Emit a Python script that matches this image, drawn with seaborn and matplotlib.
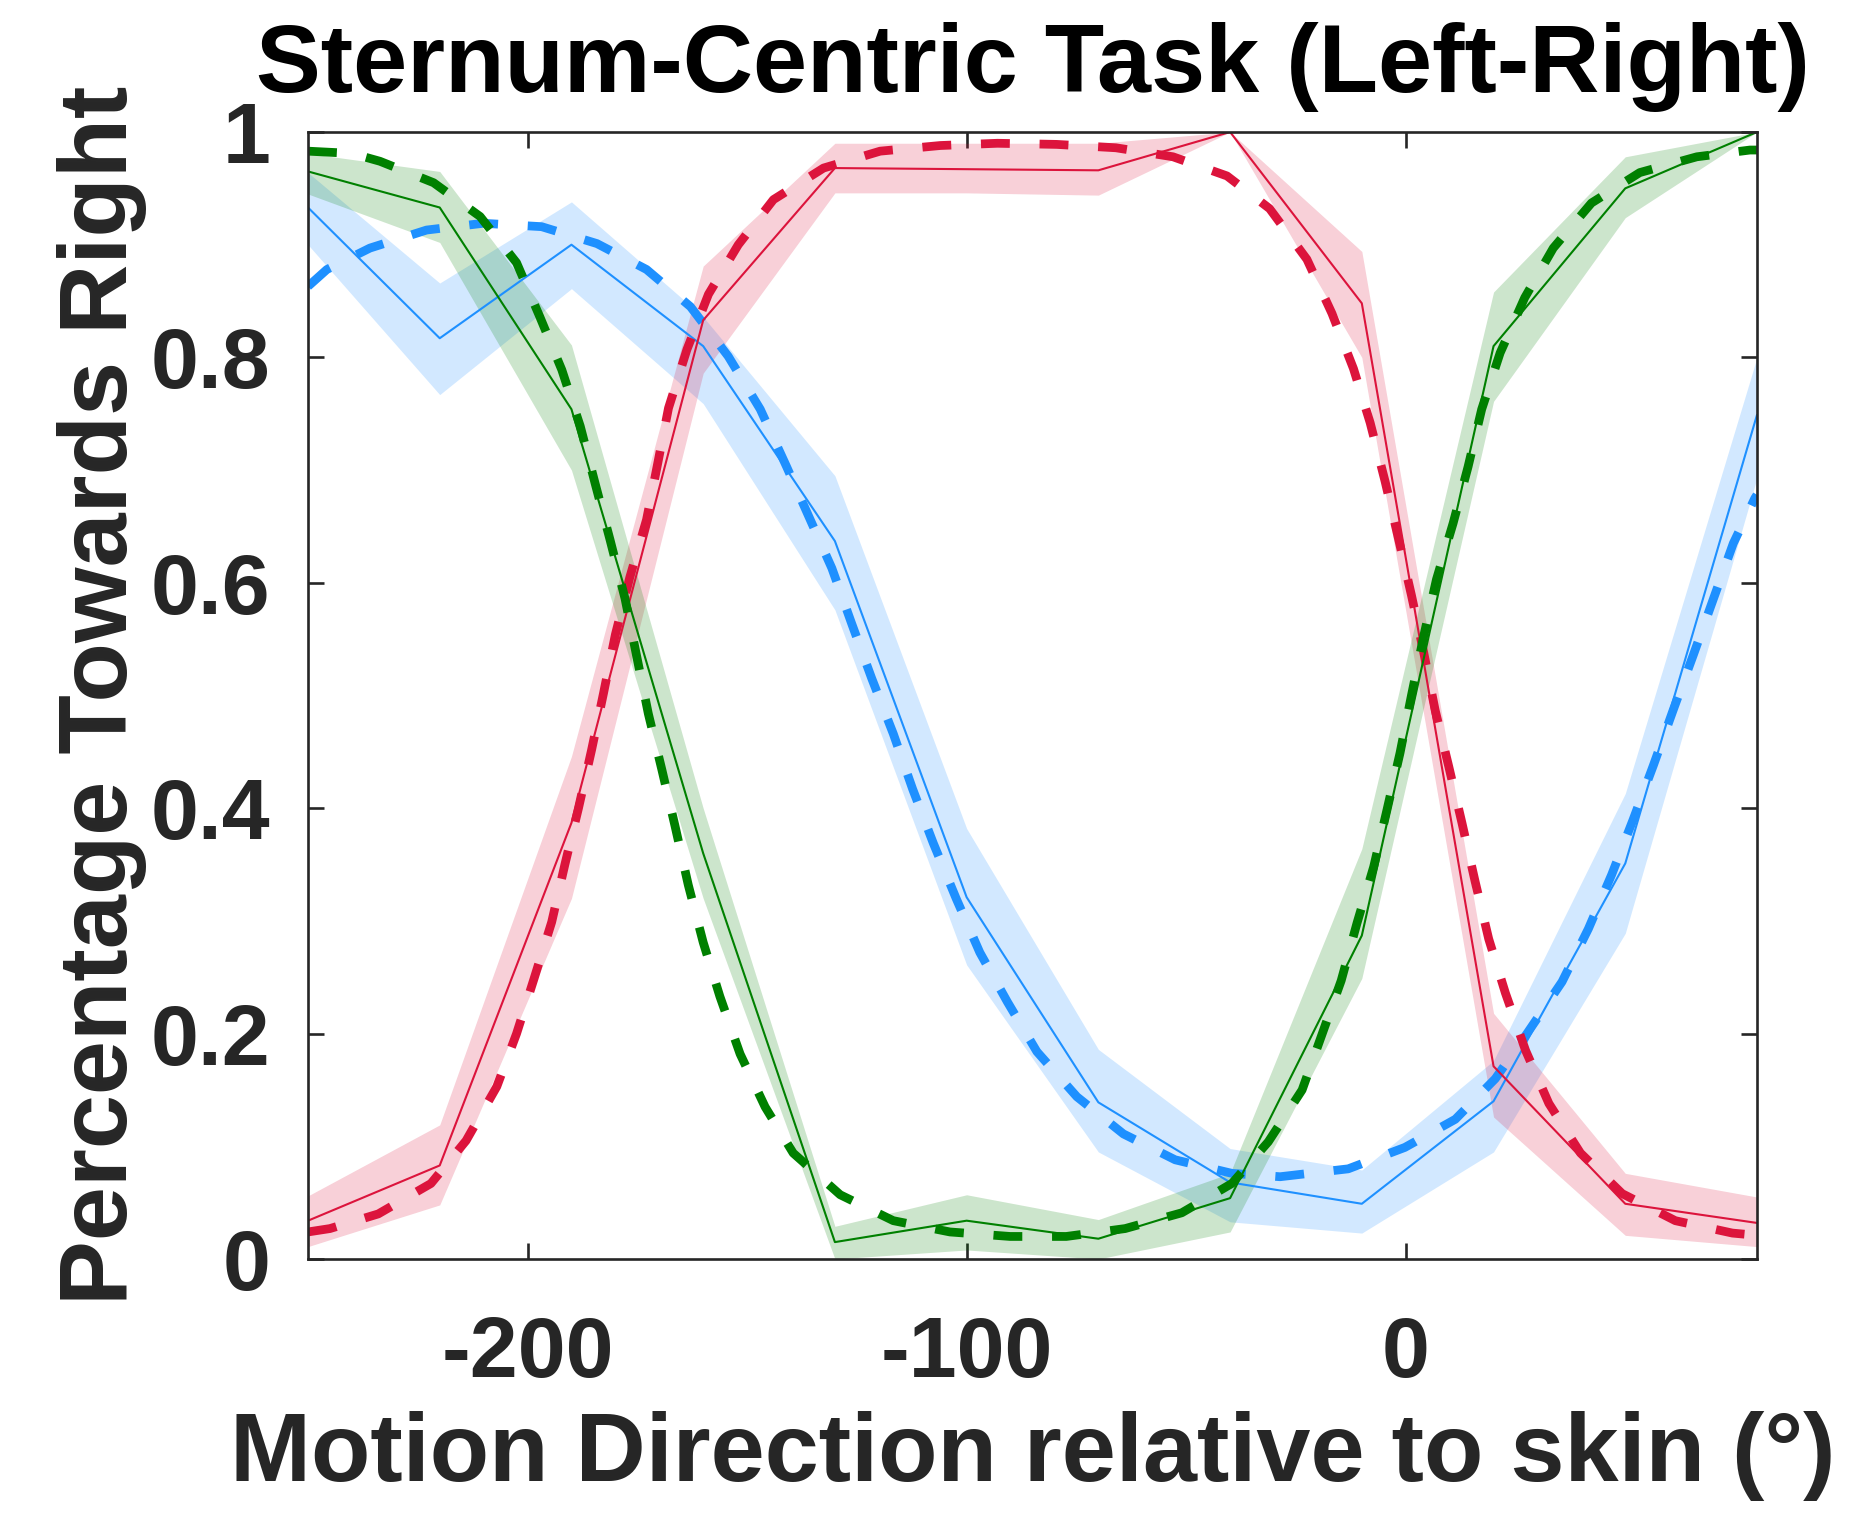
import matplotlib
matplotlib.use("Agg")
import matplotlib.pyplot as plt
import seaborn as sns

# Measured response: mean proportion "towards right" per motion direction,
# with the lower / upper limits of the shaded band.
direction = [-250, -220, -190, -160, -130, -100, -70, -40, -10, 20, 50, 80]

blue_mean = [0.933, 0.817, 0.900, 0.810, 0.637, 0.321, 0.139, 0.068, 0.049, 0.140, 0.351, 0.749]
blue_lo = [0.900, 0.767, 0.861, 0.759, 0.576, 0.261, 0.095, 0.033, 0.023, 0.095, 0.289, 0.693]
blue_hi = [0.964, 0.866, 0.938, 0.836, 0.695, 0.382, 0.186, 0.098, 0.079, 0.176, 0.413, 0.800]

red_mean = [0.034, 0.083, 0.387, 0.833, 0.968, 0.967, 0.966, 1.000, 0.848, 0.171, 0.049, 0.032]
red_lo = [0.011, 0.048, 0.320, 0.786, 0.946, 0.946, 0.944, 1.000, 0.800, 0.126, 0.021, 0.011]
red_hi = [0.056, 0.119, 0.446, 0.881, 0.990, 0.990, 0.990, 1.000, 0.894, 0.218, 0.076, 0.055]

green_mean = [0.965, 0.933, 0.754, 0.360, 0.015, 0.034, 0.018, 0.054, 0.287, 0.810, 0.950, 1.000]
green_lo = [0.945, 0.902, 0.700, 0.320, 0.000, 0.008, 0.000, 0.024, 0.249, 0.761, 0.924, 1.000]
green_hi = [0.981, 0.965, 0.811, 0.400, 0.029, 0.057, 0.035, 0.076, 0.364, 0.858, 0.978, 1.000]

# Model fits (dashed curves)
blue_fit_x = [-250, -245.7, -235.9, -223, -210.1, -196.8, -184.2, -172.9, -162.9, -154.3,
              -147, -141, -130.7, -126.2, -121.6, -116.7, -112.3, -107.6, -102.4, -97,
              -90.7, -84, -74.9, -64.3, -52.5, -39.6, -28.6, -13.1, -0.2, 11.3, 20.4,
              27.6, 35.6, 41.6, 46.9, 51.8, 56.4, 60.9, 65.5, 70.0, 74.6, 79.5, 80]
blue_fit_y = [0.863, 0.878, 0.897, 0.913, 0.919, 0.916, 0.901, 0.878, 0.845, 0.801,
              0.754, 0.703, 0.613, 0.564, 0.515, 0.466, 0.417, 0.369, 0.320, 0.272,
              0.228, 0.184, 0.144, 0.111, 0.088, 0.076, 0.073, 0.080, 0.099, 0.124, 0.160,
              0.200, 0.246, 0.293, 0.341, 0.390, 0.438, 0.487, 0.536, 0.585, 0.635, 0.675, 0.678]

red_fit_x = [-250, -245, -234, -222, -214, -207, -202.5, -198.5, -194.5, -191.5, -188.4,
             -185.4, -182.7, -180, -176.7, -172.9, -170.4, -167.9, -163.7, -158.8, -152,
             -144, -132.6, -119.7, -106, -93, -79.5, -66, -53, -40.7, -31, -22.5, -16.8,
             -11.9, -8.1, -4.7, -1.7, 1.3, 4.0, 6.7, 9.8, 12.8, 15.8, 18.9, 22.7, 27.3,
             32.6, 39.8, 49.3, 61.4, 74.4, 80]
red_fit_y = [0.024, 0.027, 0.040, 0.067, 0.105, 0.153, 0.200, 0.249, 0.299, 0.350, 0.400,
             0.452, 0.502, 0.554, 0.605, 0.656, 0.705, 0.755, 0.807, 0.856, 0.900,
             0.940, 0.968, 0.983, 0.988, 0.990, 0.989, 0.986, 0.978, 0.961, 0.932, 0.887, 0.839,
             0.790, 0.742, 0.690, 0.640, 0.589, 0.540, 0.487, 0.437, 0.387, 0.335, 0.284, 0.236, 0.185,
             0.138, 0.094, 0.058, 0.034, 0.023, 0.021]

green_fit_x = [-250, -240, -233.6, -221.4, -210.8, -202.5, -197.2, -192.2, -188, -184.6,
               -181.2, -177.8, -175.1, -172.5, -169.4, -166.4, -163.4, -160, -156.2, -151.6,
               -145.9, -139.5, -128.8, -116.7, -103.8, -90.1, -77.3, -63.9, -51, -39.6,
               -31.3, -23.6, -19.1, -14.7, -11.1, -7.3, -4.3, -1.3, 1.3, 4.0, 7.0, 10.8,
               14.2, 17.3, 21.5, 27.1, 33.6, 42.3, 53.3, 66.3, 78.4, 80]
green_fit_y = [0.983, 0.981, 0.974, 0.955, 0.925, 0.884, 0.836, 0.789, 0.739, 0.688,
               0.638, 0.586, 0.534, 0.484, 0.434, 0.384, 0.332, 0.281, 0.233, 0.182,
               0.135, 0.094, 0.057, 0.034, 0.024, 0.020, 0.020, 0.027, 0.041, 0.067,
               0.104, 0.150, 0.199, 0.247, 0.298, 0.348, 0.398, 0.449, 0.500, 0.551, 0.603, 0.653,
               0.703, 0.754, 0.804, 0.853, 0.897, 0.937, 0.964, 0.978, 0.984, 0.984]

x_ticks = [-200, -100, 0]
x_tick_labels = ["-200", "-100", "0"]
y_ticks = [0, 0.2, 0.4, 0.6, 0.8, 1.0]
y_tick_labels = ["0", "0.2", "0.4", "0.6", "0.8", "1"]

title = "Sternum-Centric Task (Left-Right)"
x_label = "Motion Direction relative to skin (°)"
y_label = "Percentage Towards Right"

BLUE = "#1E90FF"
RED = "#DC143C"
GREEN = "#008000"
INK = "#262626"

sns.set_theme(style="ticks")
plt.rcParams["font.family"] = ["Liberation Sans", "DejaVu Sans"]
plt.rcParams["font.weight"] = "bold"

fig = plt.figure(figsize=(18.76, 15.21), dpi=100)
W, H = 1876, 1521
ax = fig.add_axes([308 / W, 1 - 1259 / H, (1757 - 308) / W, (1259 - 132) / H])

series = [
    (BLUE, blue_mean, blue_lo, blue_hi, blue_fit_x, blue_fit_y),
    (RED, red_mean, red_lo, red_hi, red_fit_x, red_fit_y),
    (GREEN, green_mean, green_lo, green_hi, green_fit_x, green_fit_y),
]

for color, mean, lo, hi, fx, fy in series:
    ax.fill_between(direction, lo, hi, color=color, alpha=0.2, linewidth=0)
    sns.lineplot(x=direction, y=mean, color=color, linewidth=1.5, ax=ax,
                 errorbar=None, sort=False)
    sns.lineplot(x=fx, y=fy, color=color, linewidth=6.3, ax=ax, errorbar=None,
                 sort=False, linestyle=(0, (3.3, 3.4)), dash_capstyle="butt")

ax.set_xlim(-250, 80)
ax.set_ylim(0, 1)
ax.set_xticks(x_ticks)
ax.set_xticklabels(x_tick_labels)
ax.set_yticks(y_ticks)
ax.set_yticklabels(y_tick_labels)

for side in ["left", "right", "top", "bottom"]:
    ax.spines[side].set_visible(True)
    ax.spines[side].set_linewidth(1.9)
    ax.spines[side].set_color(INK)

ax.tick_params(axis="both", direction="in", length=11.5, width=1.9, color=INK,
               top=True, right=True, labelsize=62, labelcolor=INK)
ax.tick_params(axis="y", pad=27)
ax.tick_params(axis="x", pad=40)
for lab in ax.get_xticklabels() + ax.get_yticklabels():
    lab.set_fontweight("bold")

ax.set_title(title, fontsize=70, fontweight="bold", color="black", pad=29)
ax.set_xlabel(x_label, fontsize=70, fontweight="bold", color=INK, labelpad=12)
ax.set_ylabel(y_label, fontsize=70, fontweight="bold", color=INK, labelpad=3)

fig.savefig("out.png", dpi=100, facecolor="white")
